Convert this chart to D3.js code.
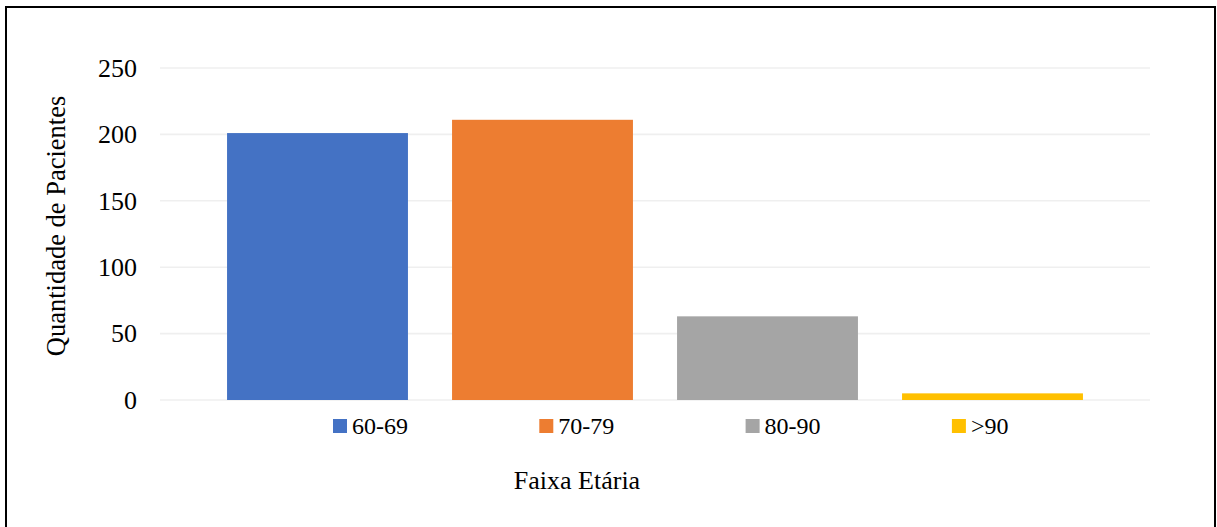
<!DOCTYPE html>
<html>
<head>
<meta charset="utf-8">
<script src="https://cdn.jsdelivr.net/npm/d3@7"></script>
<style>
  html, body { margin: 0; padding: 0; background: #fff; }
  svg { display: block; }
</style>
</head>
<body>
<svg id="chart" width="1217" height="527"></svg>
<script>
// Age groups and patient counts
const categories = ["60-69", "70-79", "80-90", ">90"];
const values = [201, 211, 63, 5];
const colors = ["#4472C4", "#ED7D31", "#A5A5A5", "#FFC000"];
const yTicks = [0, 50, 100, 150, 200, 250];

const FONT = "'Liberation Serif', 'Times New Roman', serif";
const svg = d3.select("#chart");
const W = 1217, H = 527;

// outer frame
svg.append("rect")
  .attr("x", 6).attr("y", 7)
  .attr("width", W - 6 - 2).attr("height", H + 20)
  .attr("fill", "none").attr("stroke", "#000").attr("stroke-width", 2);

const gridLeft = 160, gridRight = 1150;
const y = d3.scaleLinear().domain([0, 250]).range([400, 68]);
const x = d3.scaleBand().domain(categories).range([205, 1105])
  .paddingInner(0.196).paddingOuter(0.098);

// horizontal gridlines
svg.append("g").selectAll("line").data(yTicks).join("line")
  .attr("x1", gridLeft).attr("x2", gridRight)
  .attr("y1", d => y(d)).attr("y2", d => y(d))
  .attr("stroke", "#efefef").attr("stroke-width", 1.6);

// y axis labels
const yAxis = d3.axisLeft(y).tickValues(yTicks).tickSize(0).tickPadding(0);
const gy = svg.append("g").attr("transform", "translate(137,0)").call(yAxis);
gy.select(".domain").remove();
gy.selectAll("text")
  .style("font-family", FONT).style("font-size", "26px")
  .attr("fill", "#000").attr("dy", "0.32em");

// bars
svg.append("g").selectAll("rect").data(values).join("rect")
  .attr("x", (d, i) => x(categories[i]))
  .attr("width", x.bandwidth())
  .attr("y", d => y(d))
  .attr("height", d => y(0) - y(d))
  .attr("fill", (d, i) => colors[i]);

// legend
const legend = svg.append("g").selectAll("g").data(categories).join("g")
  .attr("transform", (d, i) => `translate(${333 + i * 206.3},419)`);
legend.append("rect").attr("width", 14).attr("height", 14)
  .attr("fill", (d, i) => colors[i]);
legend.append("text").attr("x", 19).attr("y", 14.5)
  .style("font-family", FONT).style("font-size", "24px").text(d => d);

// axis titles
svg.append("text").attr("x", 577).attr("y", 489)
  .attr("text-anchor", "middle")
  .style("font-family", FONT).style("font-size", "26px").text("Faixa Etária");
svg.append("text")
  .attr("transform", "translate(65,226) rotate(-90)")
  .attr("text-anchor", "middle")
  .style("font-family", FONT).style("font-size", "26.5px").text("Quantidade de Pacientes");
</script>
</body>
</html>
